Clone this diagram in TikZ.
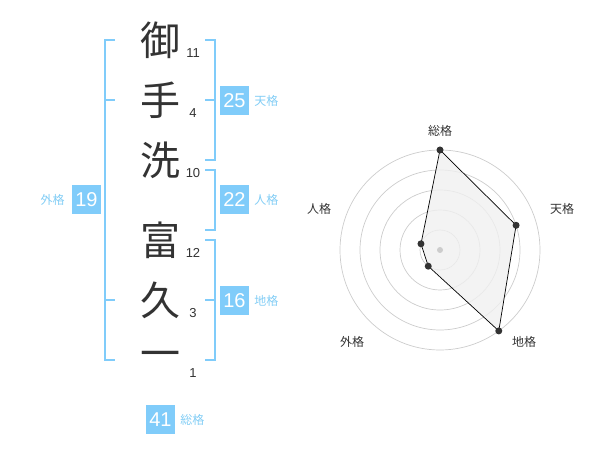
\documentclass[tikz,border=0pt]{standalone}
\usepackage{fontspec}
\setmainfont{Liberation Sans}
\newfontfamily\jpfont{Noto Sans CJK JP}
\usetikzlibrary{positioning}
\definecolor{kakublue}{RGB}{128,204,250}
\definecolor{kakutext}{RGB}{130,205,245}
\definecolor{kanjigray}{RGB}{51,51,51}
\definecolor{ringgray}{RGB}{204,204,204}
\definecolor{areagray}{RGB}{240,240,240}
\tikzset{
	kanji/.style={font=\jpfont\fontsize{40}{40}\selectfont, text=kanjigray, inner sep=0pt},
	strokes/.style={font=\fontsize{13}{13}\selectfont, text=kanjigray, inner sep=0pt},
	kakubox/.style={fill=kakublue, text=white, minimum size=29pt, inner sep=0pt, font=\fontsize{20}{20}\selectfont},
	kakuname/.style={text=kakutext, font=\jpfont\fontsize{12}{12}\selectfont, inner sep=0pt},
	bracket/.style={draw=kakublue, line width=2pt},
	axisname/.style={text=kanjigray, font=\jpfont\fontsize{12}{12}\selectfont, inner sep=0pt}
}
\begin{document}
\begin{tikzpicture}[x=1pt,y=-1pt]
		\useasboundingbox (0,0) rectangle (600,470);
		\begin{scope}
			\foreach \ch/\y/\n/\k in {御/40/11/1, 手/100/4/2, 洗/160/10/3, 富/240/12/4, 久/300/3/5, 一/360/1/6}
			{
				\node[kanji] (c\k) at (160,\y) {\ch};
				\node[strokes] (s\k) at (193,\y+13) {\n};
			}
			% brackets
			\draw[bracket] (115,40) -- (105,40) -- (105,360) -- (115,360);
			\draw[bracket] (105,100) -- (115,100);
			\draw[bracket] (105,300) -- (115,300);
			\draw[bracket] (205,40) -| (215,160) -- (205,160);
			\draw[bracket] (205,100) -- (215,100);
			\draw[bracket] (205,170) -| (215,230) -- (205,230);
			\draw[bracket] (205,240) -| (215,360) -- (205,360);
			\draw[bracket] (205,300) -- (215,300);
			% boxes
			\node[kakubox] (ten) at (234.5,100.5) {25};
			\node[kakuname, right=5pt of ten] (tenl) {天格};
			\node[kakubox] (jin) at (234.5,200) {22};
			\node[kakuname, right=5pt of jin] (jinl) {人格};
			\node[kakubox] (chi) at (234.5,300.5) {16};
			\node[kakuname, right=5pt of chi] (chil) {地格};
			\node[kakubox] (gai) at (86.5,200) {19};
			\node[kakuname, left=7pt of gai] (gail) {外格};
			\node[kakubox] (sou) at (160.5,419.5) {41};
			\node[kakuname, right=5pt of sou] (soul) {総格};
		\end{scope}
		\begin{scope}[shift={(440,250)}, y=1pt]
			\foreach \r in {20,40,...,100}
			{
				\draw[ringgray, line width=0.7pt] (0,0) circle (\r);
			}
			\coordinate (p1) at (90:100);
			\coordinate (p2) at (18:80);
			\coordinate (p3) at (-54:100);
			\coordinate (p4) at (-126:20);
			\coordinate (p5) at (162:20);
			\filldraw[fill=areagray, fill opacity=0.8, draw=black, line width=0.7pt] (p1) -- (p2) -- (p3) -- (p4) -- (p5) -- cycle;
			\fill[ringgray] (0,0) circle (3);
			\foreach \i in {1,...,5}
			{
				\fill[kanjigray] (p\i) circle (3.5);
			}
			\node[axisname] (a1) at (0,119) {総格};
			\node[axisname] (a2) at (122,41) {天格};
			\node[axisname] (a3) at (84,-92) {地格};
			\node[axisname] (a4) at (-88,-92) {外格};
			\node[axisname] (a5) at (-121,41) {人格};
		\end{scope}
\end{tikzpicture}
\end{document}
